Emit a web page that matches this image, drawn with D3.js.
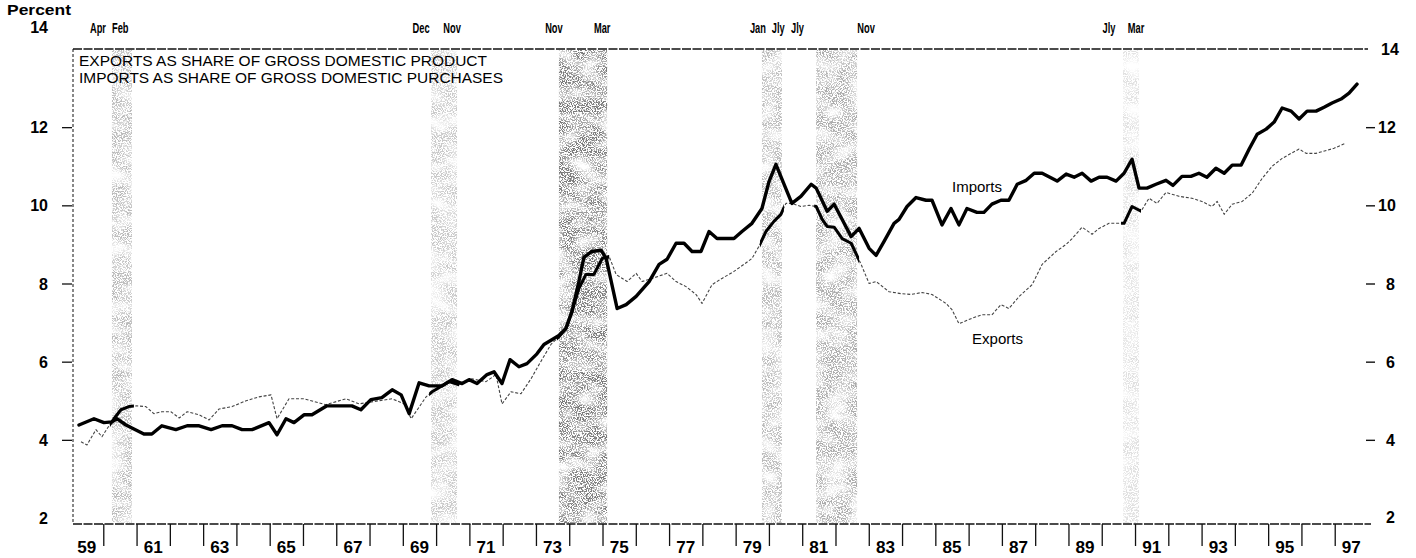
<!DOCTYPE html>
<html><head><meta charset="utf-8">
<script src="https://cdn.jsdelivr.net/npm/d3@7"></script>
<style>body{margin:0;background:#fff}svg{display:block}</style>
</head><body><svg id="c" width="1416" height="558"></svg>
<script>
// ---- data ----
const importYears = [1959.18,1959.63,1959.93,1960.17,1960.32,1960.59,1961.13,1961.37,1961.67,1962.09,
1962.43,1962.79,1963.15,1963.48,1963.78,1964.08,1964.38,1964.89,1965.13,1965.40,
1965.64,1965.94,1966.18,1966.63,1966.90,1967.38,1967.65,1967.95,1968.28,1968.59,
1968.86,1969.10,1969.40,1969.70,1970.09,1970.39,1970.69,1970.90,1971.14,1971.44,
1971.65,1971.89,1972.13,1972.40,1972.64,1972.94,1973.15,1973.60,1973.81,1973.99,
1974.20,1974.35,1974.59,1974.87,1975.02,1975.35,1975.62,1975.92,1976.31,1976.61,
1976.85,1977.12,1977.36,1977.60,1977.87,1978.11,1978.35,1978.86,1979.10,1979.40,
1979.70,1979.91,1980.12,1980.60,1980.87,1981.18,1981.33,1981.66,1981.87,1982.17,
1982.38,1982.62,1982.92,1983.13,1983.37,1983.67,1983.82,1984.06,1984.33,1984.63,
1984.81,1985.11,1985.38,1985.62,1985.86,1986.16,1986.37,1986.61,1986.88,1987.12,
1987.37,1987.64,1987.88,1988.12,1988.57,1988.84,1989.08,1989.32,1989.59,1989.83,
1990.07,1990.34,1990.58,1990.82,1991.03,1991.27,1991.54,1991.84,1992.05,1992.32,
1992.59,1992.83,1993.07,1993.34,1993.59,1993.83,1994.10,1994.34,1994.58,1994.85,
1995.09,1995.33,1995.60,1995.84,1996.08,1996.35,1996.59,1996.83,1997.10,1997.34,
1997.58];
const importValues = [4.38,4.54,4.44,4.46,4.54,4.38,4.15,4.15,4.36,4.26,
4.36,4.36,4.26,4.36,4.36,4.26,4.26,4.44,4.13,4.54,
4.44,4.64,4.64,4.87,4.87,4.87,4.77,5.03,5.08,5.28,
5.15,4.67,5.46,5.38,5.38,5.54,5.44,5.54,5.44,5.67,
5.74,5.44,6.05,5.87,5.95,6.2,6.44,6.67,6.85,7.28,
8.05,8.67,8.82,8.85,8.64,7.36,7.46,7.67,8.05,8.49,
8.62,9.03,9.03,8.82,8.82,9.33,9.15,9.15,9.33,9.54,
9.92,10.6,11.05,10.05,10.23,10.54,10.44,9.85,10.03,9.54,
9.2,9.41,8.9,8.72,9.08,9.54,9.64,9.97,10.2,10.13,
10.13,9.5,9.92,9.5,9.92,9.82,9.82,10.03,10.13,10.13,
10.54,10.64,10.82,10.82,10.62,10.8,10.72,10.82,10.62,10.72,
10.72,10.62,10.82,11.18,10.44,10.44,10.54,10.64,10.51,10.74,
10.74,10.82,10.72,10.95,10.82,11.03,11.03,11.44,11.82,11.95,
12.13,12.49,12.41,12.21,12.41,12.41,12.51,12.62,12.72,12.87,
13.1];

const exportYears = [1959.24,1959.42,1959.69,1959.87,1960.02,1960.23,1960.44,1960.68,1960.92,1961.19,
1961.43,1961.67,1961.94,1962.19,1962.43,1962.79,1963.09,1963.39,1963.78,1964.20,
1964.59,1964.95,1965.13,1965.49,1965.94,1966.60,1967.20,1967.59,1968.19,1968.59,
1968.95,1969.16,1969.61,1969.79,1970.30,1970.60,1970.99,1971.41,1971.71,1971.89,
1972.16,1972.46,1972.76,1973.00,1973.36,1973.60,1973.81,1973.99,1974.20,1974.41,
1974.65,1974.90,1975.11,1975.32,1975.65,1975.92,1976.10,1976.40,1976.85,1977.12,
1977.42,1977.72,1977.90,1978.20,1978.50,1978.86,1979.16,1979.40,1979.61,1979.82,
1980.06,1980.27,1980.42,1980.60,1980.87,1981.12,1981.33,1981.51,1981.66,1981.87,
1982.11,1982.38,1982.68,1982.92,1983.13,1983.52,1983.88,1984.18,1984.51,1984.81,
1985.23,1985.41,1985.62,1985.98,1986.31,1986.61,1986.88,1987.12,1987.43,1987.82,
1988.12,1988.54,1988.84,1989.02,1989.32,1989.62,1989.83,1990.13,1990.58,1990.82,
1991.09,1991.33,1991.57,1991.84,1992.23,1992.62,1992.92,1993.22,1993.38,1993.59,
1993.83,1994.13,1994.43,1994.73,1995.03,1995.33,1995.60,1995.84,1996.05,1996.35,
1996.89,1997.23];
const exportValues = [3.95,3.87,4.26,4.08,4.28,4.54,4.77,4.85,4.87,4.85,
4.67,4.72,4.72,4.56,4.72,4.64,4.51,4.79,4.85,5.0,
5.1,5.15,4.54,5.05,5.05,4.9,5.05,4.92,5.0,5.05,
4.92,4.54,5.1,5.23,5.49,5.41,5.56,5.49,5.67,4.92,
5.23,5.18,5.56,5.92,6.44,6.64,6.85,7.28,7.87,8.23,
8.23,8.64,8.69,8.23,8.05,8.26,8.05,8.13,8.26,8.05,
7.92,7.72,7.49,7.97,8.13,8.31,8.49,8.64,8.95,9.33,
9.59,9.77,10.05,10.05,9.97,10.0,9.97,9.64,9.46,9.44,
9.15,9.03,8.49,8.0,8.05,7.79,7.74,7.72,7.77,7.72,
7.49,7.33,6.97,7.1,7.2,7.2,7.46,7.36,7.67,7.97,
8.49,8.82,9.0,9.15,9.44,9.26,9.41,9.54,9.54,9.97,
9.85,10.18,10.05,10.33,10.23,10.18,10.1,9.97,10.1,9.77,
10.03,10.1,10.31,10.69,11.0,11.2,11.33,11.44,11.33,11.33,
11.46,11.59];

const recessionStart = [1960.17, 1969.76, 1973.60, 1979.70, 1981.33, 1990.55];
const recessionEnd   = [1960.77, 1970.54, 1975.05, 1980.30, 1982.56, 1991.03];
const monthLabels = ["Apr","Feb","Dec","Nov","Nov","Mar","Jan","Jly","Jly","Nov","Jly","Mar"];
const monthLabelYears = [1959.75,1960.42,1969.46,1970.39,1973.45,1974.90,1979.58,1980.19,1980.77,1982.83,1990.13,1990.94];

const yearTicks = [1960,1961,1962,1963,1964,1965,1966,1967,1968,1969,1970,1971,1972,1973,1974,1975,1976,1977,1978,1979,
1980,1981,1982,1983,1984,1985,1986,1987,1988,1989,1990,1991,1992,1993,1994,1995,1996,1997];
const yearLabelYears = [1959,1961,1963,1965,1967,1969,1971,1973,1975,1977,1979,1981,1983,1985,1987,1989,1991,1993,1995,1997];
const yearLabels = ["59","61","63","65","67","69","71","73","75","77","79","81","83","85","87","89","91","93","95","97"];
const valueTicks = [4,6,8,10,12];
const valueLabels = [2,4,6,8,10,12,14];
const titleLines = ["EXPORTS AS SHARE OF GROSS DOMESTIC PRODUCT","IMPORTS AS SHARE OF GROSS DOMESTIC PURCHASES"];

// ---- drawing ----
const svg = d3.select("#c");
const FONT = "'Liberation Sans', Arial, Helvetica, sans-serif";
const x = d3.scaleLinear().domain([1959, 1998]).range([73, 1371]);
const y = d3.scaleLinear().domain([2, 14]).range([518, 49]);
const topY = y(14), bottomY = 524, leftX = x(1959);
const tickShift = -3;

const defs = svg.append("defs");
const f = defs.append("filter").attr("id","stip").attr("x","0").attr("y","0").attr("width","1").attr("height","1");
f.append("feTurbulence").attr("type","fractalNoise").attr("baseFrequency","0.8").attr("numOctaves",2).attr("seed",7).attr("result","n1");
f.append("feColorMatrix").attr("in","n1").attr("type","matrix")
 .attr("values","0 0 0 0 0  0 0 0 0 0  0 0 0 0 0  9 0 0 0 -4.1").attr("result","m1");
f.append("feTurbulence").attr("type","fractalNoise").attr("baseFrequency","0.04 0.07").attr("numOctaves",2).attr("seed",3).attr("result","n2");
f.append("feColorMatrix").attr("in","n2").attr("type","matrix")
 .attr("values","0 0 0 0 0  0 0 0 0 0  0 0 0 0 0  2.2 0 0 0 -0.35").attr("result","m2");
f.append("feComposite").attr("in","m1").attr("in2","m2").attr("operator","in").attr("result","m");
f.append("feComposite").attr("in","SourceGraphic").attr("in2","m").attr("operator","in");

const bandStyle = [
  {fill:"#777", op:0.5}, {fill:"#888", op:0.45}, {fill:"#444", op:0.7},
  {fill:"#777", op:0.5}, {fill:"#666", op:0.55}, {fill:"#999", op:0.3}];
const bands = recessionStart.map((s,i)=>({s, e:recessionEnd[i], i}));
svg.append("g").selectAll("rect").data(bands).join("rect")
  .attr("x", d=>x(d.s)).attr("width", d=>x(d.e)-x(d.s))
  .attr("y", topY+1).attr("height", bottomY-topY-2)
  .attr("fill", d=>bandStyle[d.i].fill).attr("fill-opacity", d=>bandStyle[d.i].op)
  .attr("filter","url(#stip)");

const clip = defs.append("clipPath").attr("id","bandclip");
clip.selectAll("rect").data(bands).join("rect")
  .attr("x", d=>x(d.s)-2).attr("width", d=>x(d.e)-x(d.s)+4)
  .attr("y", topY).attr("height", bottomY-topY);

// frame (dashed)
const frame = svg.append("g").attr("stroke","#111").attr("fill","none");
frame.append("line").attr("x1",leftX).attr("x2",1368).attr("y1",topY).attr("y2",topY)
  .attr("stroke-width",1.4).attr("stroke-dasharray","9,1.5");
frame.append("line").attr("x1",leftX).attr("x2",leftX).attr("y1",topY).attr("y2",bottomY)
  .attr("stroke-width",1).attr("stroke-dasharray","3,2");
frame.append("line").attr("x1",leftX).attr("x2",x(1998)).attr("y1",bottomY).attr("y2",bottomY)
  .attr("stroke-width",1.4).attr("stroke-dasharray","9,1.5");

// bottom axis ticks
const xAxis = d3.axisBottom(x).tickValues(yearTicks).tickSize(22).tickSizeOuter(0).tickFormat("");
const gx = svg.append("g").attr("transform",`translate(${tickShift},${bottomY})`).call(xAxis);
gx.select(".domain").remove();
gx.selectAll(".tick line").attr("stroke","#111").attr("stroke-width",1.3);
svg.append("g").selectAll("text").data(yearLabels).join("text")
  .attr("x",(d,i)=>x(yearLabelYears[i]+0.5)+tickShift).attr("y",553)
  .attr("text-anchor","middle").attr("font-family",FONT).attr("font-weight","bold")
  .attr("font-size",16).attr("fill","#000").attr("textLength",19).attr("lengthAdjust","spacingAndGlyphs")
  .text(d=>d);

// left axis ticks
const yAxisL = d3.axisLeft(y).tickValues(valueTicks).tickSize(10).tickFormat("");
const gyl = svg.append("g").attr("transform",`translate(${leftX-1},0)`).call(yAxisL);
gyl.select(".domain").remove();
gyl.selectAll(".tick line").attr("stroke","#111").attr("stroke-width",1.3);
svg.append("g").selectAll("text").data(valueLabels).join("text")
  .attr("x",48).attr("y",d=> d===14 ? 33 : y(d)+6)
  .attr("text-anchor","end").attr("font-family",FONT).attr("font-weight","bold")
  .attr("font-size",16).attr("fill","#000").text(d=>d);

// right axis
const yAxisR = d3.axisRight(y).tickValues(valueTicks).tickSize(9).tickFormat("");
const gyr = svg.append("g").attr("transform",`translate(1366,0)`).call(yAxisR);
gyr.select(".domain").remove();
gyr.selectAll(".tick line").attr("stroke","#111").attr("stroke-width",1.4);
svg.append("g").selectAll("text").data(valueLabels).join("text")
  .attr("x",d=> (d===14) ? 1381 : (d>=10 ? 1378 : 1386)).attr("y",d=> d===2 ? 523 : y(d)+6)
  .attr("text-anchor","start").attr("font-family",FONT).attr("font-weight","bold")
  .attr("font-size",16).attr("fill","#000").text(d=>d);

// "Percent"
svg.append("text").attr("x",7).attr("y",15).attr("font-family",FONT).attr("font-weight","bold")
  .attr("font-size",15).attr("textLength",64).attr("lengthAdjust","spacingAndGlyphs").text("Percent");

// month labels (condensed by horizontal scaling)
svg.append("g").selectAll("text").data(monthLabels).join("text")
  .attr("transform",(d,i)=>`translate(${x(monthLabelYears[i])},33) scale(0.62,1)`)
  .attr("text-anchor","middle")
  .attr("font-family",FONT).attr("font-weight","bold").attr("font-size",15)
  .text(d=>d);

// title lines in box
svg.append("g").selectAll("text").data(titleLines).join("text")
  .attr("x",79).attr("y",(d,i)=>66+i*17).attr("font-family",FONT).attr("font-size",15.5)
  .attr("textLength",(d,i)=> i===0 ? 408 : 424).attr("lengthAdjust","spacingAndGlyphs")
  .text(d=>d);

// lines
const line = d3.line().x(d=>x(d[0])).y(d=>y(d[1])).curve(d3.curveLinear);
const imports = importYears.map((t,i)=>[t, importValues[i]]);
const exportsD = exportYears.map((t,i)=>[t, exportValues[i]]);

svg.append("path").datum(exportsD).attr("d",line).attr("fill","none")
  .attr("stroke","#444").attr("stroke-width",1.1).attr("stroke-dasharray","3,1.8").attr("stroke-linejoin","round");
svg.append("path").datum(exportsD).attr("d",line).attr("fill","none").attr("clip-path","url(#bandclip)")
  .attr("stroke","#000").attr("stroke-width",3).attr("stroke-linejoin","round");
svg.append("path").datum(imports).attr("d",line).attr("fill","none")
  .attr("stroke","#000").attr("stroke-width",3.4).attr("stroke-linejoin","round").attr("stroke-linecap","round");

// series labels
svg.append("text").attr("x",952).attr("y",192).attr("font-family",FONT).attr("font-size",15)
  .attr("textLength",50).attr("lengthAdjust","spacingAndGlyphs").text("Imports");
svg.append("text").attr("x",972).attr("y",344).attr("font-family",FONT).attr("font-size",15)
  .attr("textLength",51).attr("lengthAdjust","spacingAndGlyphs").text("Exports");
</script></body></html>
